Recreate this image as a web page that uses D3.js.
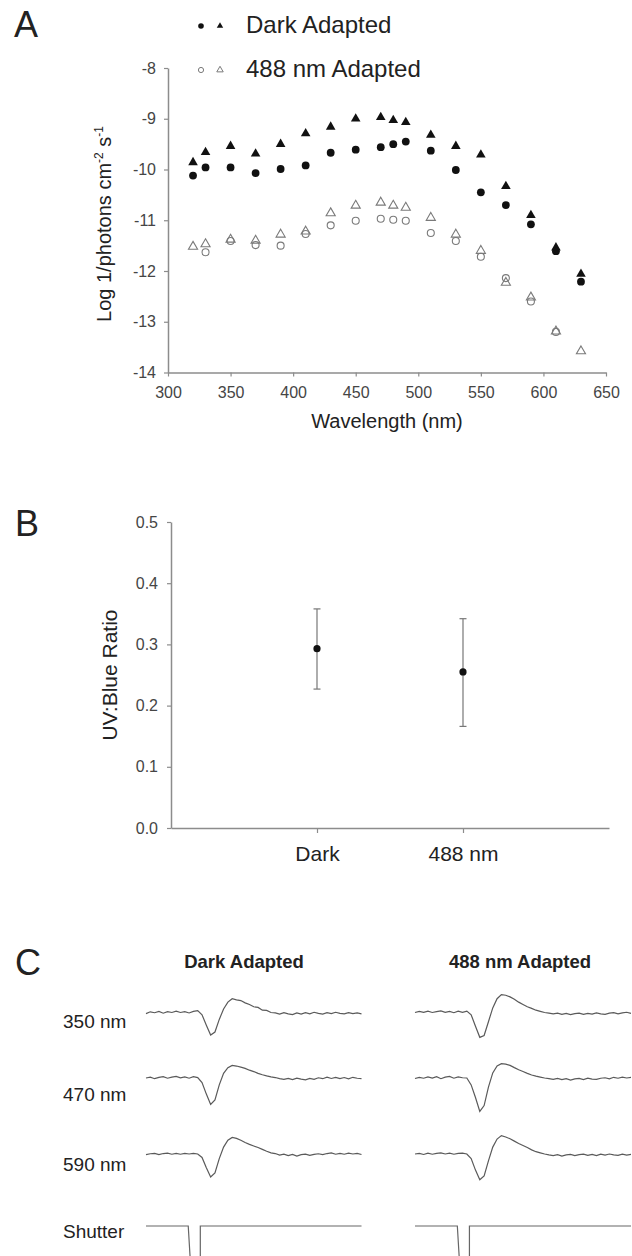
<!DOCTYPE html>
<html>
<head>
<meta charset="utf-8">
<script src="https://cdn.jsdelivr.net/npm/d3@7"></script>
<style>
  body { margin: 0; background: #fff; }
  svg { display: block; font-family: "Liberation Sans", Arial, sans-serif; }
</style>
</head>
<body>
<div id="chart"></div>
<script>
// ---- panel A data: log sensitivity vs wavelength ----
const wavelengths = [320, 330, 350, 370, 390, 410, 430, 450, 470, 480, 490, 510, 530, 550, 570, 590, 610, 630];
const darkCircles = [-10.12, -9.96, -9.96, -10.07, -9.99, -9.92, -9.67, -9.61, -9.56, -9.50, -9.45, -9.63, -10.01, -10.45, -10.70, -11.08, -11.61, -12.21];
const darkTriangles = [-9.86, -9.66, -9.54, -9.69, -9.50, -9.29, -9.16, -9.00, -8.97, -9.03, -9.07, -9.32, -9.54, -9.71, -10.33, -10.90, -11.54, -12.06];
const blueCircles = [null, -11.63, -11.41, -11.49, -11.50, -11.27, -11.10, -11.01, -10.97, -10.99, -11.01, -11.25, -11.41, -11.72, -12.14, -12.60, -13.20, null];
const blueTriangles = [-11.52, -11.47, -11.38, -11.40, -11.28, -11.22, -10.86, -10.71, -10.65, -10.71, -10.75, -10.95, -11.28, -11.60, -12.23, -12.52, -13.19, -13.58];
const xTicksA = [300, 350, 400, 450, 500, 550, 600, 650];
const yTicksA = [-8, -9, -10, -11, -12, -13, -14];

// ---- panel B data: UV:Blue ratio ----
const conditions = ["Dark", "488 nm"];
const ratioMean = [0.293, 0.255];
const ratioLow = [0.227, 0.166];
const ratioHigh = [0.358, 0.342];
const yTicksB = [0.0, 0.1, 0.2, 0.3, 0.4, 0.5];

// ---- panel C data: ERG traces (time 0..100, sampled every 2) ----
const traceTime = d3.range(0, 101, 2);
const dark350 = [-0.05,0.03,-0.01,0.05,-0.03,0.04,0.0,0.06,0.0,0.04,-0.02,0.05,0.08,-0.1,-0.55,-0.98,-0.85,-0.3,0.15,0.45,0.6,0.55,0.52,0.42,0.35,0.25,0.22,0.1,0.09,0.0,-0.02,-0.07,-0.01,-0.06,-0.09,-0.02,-0.07,-0.01,-0.06,0.01,-0.04,-0.07,-0.01,-0.05,0.01,-0.04,-0.06,-0.01,-0.05,-0.02,-0.06];
const dark470 = [0.0,0.04,-0.03,0.03,0.06,-0.01,0.04,0.07,0.01,0.05,-0.01,0.06,0.02,-0.2,-0.7,-1.15,-0.95,-0.3,0.2,0.45,0.55,0.52,0.47,0.42,0.34,0.28,0.2,0.14,0.09,0.05,0.02,-0.03,-0.06,-0.02,-0.07,-0.01,-0.05,-0.08,-0.02,-0.06,0.01,-0.03,0.04,-0.02,0.03,-0.03,0.02,-0.04,0.03,-0.01,-0.03];
const dark590 = [-0.03,0.01,0.03,-0.03,0.02,0.04,-0.01,0.03,-0.01,0.03,0.0,0.03,0.0,-0.15,-0.6,-1.0,-0.82,-0.2,0.3,0.6,0.72,0.68,0.6,0.5,0.42,0.35,0.28,0.2,0.12,0.05,0.02,-0.05,-0.01,-0.07,-0.02,-0.09,-0.03,-0.01,-0.06,-0.02,0.01,-0.03,0.02,0.05,-0.01,0.03,-0.01,0.04,0.0,0.03,-0.02];
const blue350 = [0.0,0.05,0.01,0.06,0.0,0.04,0.07,0.01,0.05,-0.01,0.06,0.01,0.06,-0.1,-0.6,-1.08,-1.0,-0.4,0.2,0.6,0.78,0.75,0.68,0.58,0.45,0.35,0.25,0.18,0.1,0.05,0.0,-0.03,-0.06,-0.03,-0.08,-0.04,-0.09,-0.05,-0.03,-0.08,-0.04,-0.07,-0.02,-0.06,-0.08,-0.03,-0.01,-0.06,-0.02,0.01,-0.04];
const blue470 = [-0.02,0.03,-0.01,0.05,0.0,0.06,-0.03,0.04,0.07,-0.01,0.05,0.01,0.0,-0.3,-0.85,-1.45,-1.2,-0.4,0.22,0.52,0.62,0.6,0.55,0.45,0.36,0.28,0.2,0.13,0.08,0.04,0.0,-0.03,-0.06,-0.02,-0.07,-0.03,-0.09,-0.04,-0.02,-0.07,-0.01,-0.05,-0.06,-0.01,0.01,-0.04,0.03,-0.01,0.04,0.0,0.03];
const blue590 = [0.0,0.03,-0.02,0.04,-0.01,0.03,0.05,0.0,0.04,-0.01,0.03,0.04,0.0,-0.2,-0.7,-1.12,-0.95,-0.3,0.3,0.65,0.8,0.74,0.66,0.56,0.46,0.37,0.28,0.18,0.1,0.05,0.0,-0.04,-0.07,-0.03,-0.09,-0.04,-0.02,-0.07,-0.03,-0.01,-0.06,-0.02,-0.07,-0.01,-0.05,0.0,-0.04,-0.06,-0.01,-0.05,-0.02];
const shutterTime = [0, 19.6, 20.6, 25.2, 25.2, 100];
const shutterLevel = [1, 1, 0, 0, 1, 1];
const rowLabels = ["350 nm", "470 nm", "590 nm", "Shutter"];
const columnTitles = ["Dark Adapted", "488 nm Adapted"];

const W = 632, H = 1256;
const svg = d3.select("#chart").append("svg").attr("width", W).attr("height", H);

const axisGrey = "#8c8c8c";
const tickText = "#454545";
const ink = "#222";

function panelLetter(txt, x, y) {
  svg.append("text").attr("x", x).attr("y", y)
    .attr("font-size", 36).attr("fill", ink).text(txt);
}

function styleAxis(g) {
  g.select(".domain").attr("stroke", axisGrey).attr("stroke-width", 1.5);
  g.selectAll(".tick line").attr("stroke", axisGrey).attr("stroke-width", 1.2);
  g.selectAll(".tick text").attr("fill", tickText).attr("font-size", 16)
    .attr("font-family", "Liberation Sans, Arial, sans-serif");
}

// ================= Panel A =================
panelLetter("A", 14, 37);

const xA = d3.scaleLinear().domain([300, 650]).range([168, 606]);
const yA = d3.scaleLinear().domain([-14, -8]).range([372.5, 68]);

svg.append("g").attr("transform", "translate(0,372.5)")
  .call(d3.axisBottom(xA).tickValues(xTicksA).tickSize(4).tickSizeOuter(0).tickPadding(10))
  .call(styleAxis);
svg.append("g").attr("transform", "translate(168,0)")
  .call(d3.axisLeft(yA).tickValues(yTicksA).tickFormat(d => String(d)).tickSize(4).tickSizeOuter(0).tickPadding(8))
  .call(styleAxis);

svg.append("text").attr("x", 387).attr("y", 428).attr("text-anchor", "middle")
  .attr("font-size", 20).attr("fill", ink).text("Wavelength (nm)");

const yLabA = svg.append("text")
  .attr("transform", "translate(111,224) rotate(-90)")
  .attr("text-anchor", "middle").attr("font-size", 20).attr("fill", ink);
yLabA.append("tspan").text("Log 1/photons cm");
yLabA.append("tspan").attr("font-size", 12).attr("dy", -8).text("-2");
yLabA.append("tspan").attr("dy", 8).text(" s");
yLabA.append("tspan").attr("font-size", 12).attr("dy", -8).text("-1");

const tri = d3.symbol().type(d3.symbolTriangle);
const ptsA = wavelengths.map((w, i) => ({ w, dc: darkCircles[i], dt: darkTriangles[i], bc: blueCircles[i], bt: blueTriangles[i] }));

svg.append("g").selectAll("path").data(ptsA.filter(d => d.bt != null)).join("path")
  .attr("d", tri.size(36)())
  .attr("transform", d => `translate(${xA(d.w)},${yA(d.bt)})`)
  .attr("fill", "none").attr("stroke", "#7a7a7a").attr("stroke-width", 1.1);
svg.append("g").selectAll("circle").data(ptsA.filter(d => d.bc != null)).join("circle")
  .attr("cx", d => xA(d.w)).attr("cy", d => yA(d.bc)).attr("r", 3.5)
  .attr("fill", "none").attr("stroke", "#7a7a7a").attr("stroke-width", 1.1);
svg.append("g").selectAll("path").data(ptsA).join("path")
  .attr("d", tri.size(40)())
  .attr("transform", d => `translate(${xA(d.w)},${yA(d.dt)})`)
  .attr("fill", "#111");
svg.append("g").selectAll("circle").data(ptsA).join("circle")
  .attr("cx", d => xA(d.w)).attr("cy", d => yA(d.dc)).attr("r", 3.9)
  .attr("fill", "#111");

// legend
const legend = svg.append("g");
legend.append("circle").attr("cx", 201).attr("cy", 26).attr("r", 2.8).attr("fill", "#111");
legend.append("path").attr("d", tri.size(18)()).attr("transform", "translate(220,26)").attr("fill", "#111");
legend.append("text").attr("x", 246).attr("y", 32.5).attr("font-size", 24).attr("fill", ink).text("Dark Adapted");
legend.append("circle").attr("cx", 201).attr("cy", 70).attr("r", 2.6).attr("fill", "none").attr("stroke", "#7a7a7a");
legend.append("path").attr("d", tri.size(18)()).attr("transform", "translate(220,70)")
  .attr("fill", "none").attr("stroke", "#7a7a7a");
legend.append("text").attr("x", 246).attr("y", 77).attr("font-size", 24).attr("fill", ink).text("488 nm Adapted");

// ================= Panel B =================
panelLetter("B", 15, 536);

const xB = d3.scalePoint().domain(conditions).range([171, 609]).padding(1);
const yB = d3.scaleLinear().domain([0, 0.5]).range([828, 522]);

svg.append("g").attr("transform", "translate(0,828)")
  .call(d3.axisBottom(xB).tickSize(5).tickSizeOuter(0).tickPadding(13))
  .call(styleAxis)
  .call(g => g.selectAll(".tick text").attr("font-size", 21).attr("fill", ink));
svg.append("g").attr("transform", "translate(171,0)")
  .call(d3.axisLeft(yB).tickValues(yTicksB).tickFormat(d3.format(".1f")).tickSize(4).tickSizeOuter(0).tickPadding(9))
  .call(styleAxis);

svg.append("text").attr("transform", "translate(117,675) rotate(-90)")
  .attr("text-anchor", "middle").attr("font-size", 21).attr("fill", ink).text("UV:Blue Ratio");

const ptsB = conditions.map((c, i) => ({ c, m: ratioMean[i], lo: ratioLow[i], hi: ratioHigh[i] }));
const eb = svg.append("g").attr("stroke", "#777").attr("stroke-width", 1.2);
eb.selectAll("line.v").data(ptsB).join("line").attr("class", "v")
  .attr("x1", d => xB(d.c)).attr("x2", d => xB(d.c)).attr("y1", d => yB(d.lo)).attr("y2", d => yB(d.hi));
eb.selectAll("line.hi").data(ptsB).join("line").attr("class", "hi")
  .attr("x1", d => xB(d.c) - 3.5).attr("x2", d => xB(d.c) + 3.5).attr("y1", d => yB(d.hi)).attr("y2", d => yB(d.hi));
eb.selectAll("line.lo").data(ptsB).join("line").attr("class", "lo")
  .attr("x1", d => xB(d.c) - 3.5).attr("x2", d => xB(d.c) + 3.5).attr("y1", d => yB(d.lo)).attr("y2", d => yB(d.lo));
svg.append("g").selectAll("circle").data(ptsB).join("circle")
  .attr("cx", d => xB(d.c)).attr("cy", d => yB(d.m)).attr("r", 3.6).attr("fill", "#111");

// ================= Panel C =================
panelLetter("C", 15, 975);

const colRanges = [[146, 361.5], [415, 631]];
const titleX = [244, 520];
const rowBase = [1012.5, 1078, 1154];
const traces = [[dark350, dark470, dark590], [blue350, blue470, blue590]];

columnTitles.forEach((t, j) => {
  svg.append("text").attr("x", titleX[j]).attr("y", 968)
    .attr("text-anchor", "middle").attr("font-size", 18.5).attr("font-weight", "bold")
    .attr("fill", ink).text(t);
});

const rowLabelY = [1028, 1101, 1171, 1238];
rowLabels.forEach((t, i) => {
  svg.append("text").attr("x", 63).attr("y", rowLabelY[i]).attr("font-size", 19)
    .attr("fill", ink).text(t);
});

colRanges.forEach((rng, j) => {
  const xt = d3.scaleLinear().domain([0, 100]).range(rng);
  rowBase.forEach((base, r) => {
    const yt = d3.scaleLinear().domain([-1, 1]).range([base + 23, base - 23]);
    const line = d3.line().x((d, i) => xt(traceTime[i])).y(d => yt(d));
    svg.append("path").datum(traces[j][r]).attr("d", line)
      .attr("fill", "none").attr("stroke", "#5a5a5a").attr("stroke-width", 1.2);
  });
  const ys = d3.scaleLinear().domain([0, 1]).range([1262, 1226]);
  const sLine = d3.line().x((d, i) => xt(shutterTime[i])).y(d => ys(d));
  svg.append("path").datum(shutterLevel).attr("d", sLine)
    .attr("fill", "none").attr("stroke", "#666").attr("stroke-width", 1.2);
});
</script>
</body>
</html>
